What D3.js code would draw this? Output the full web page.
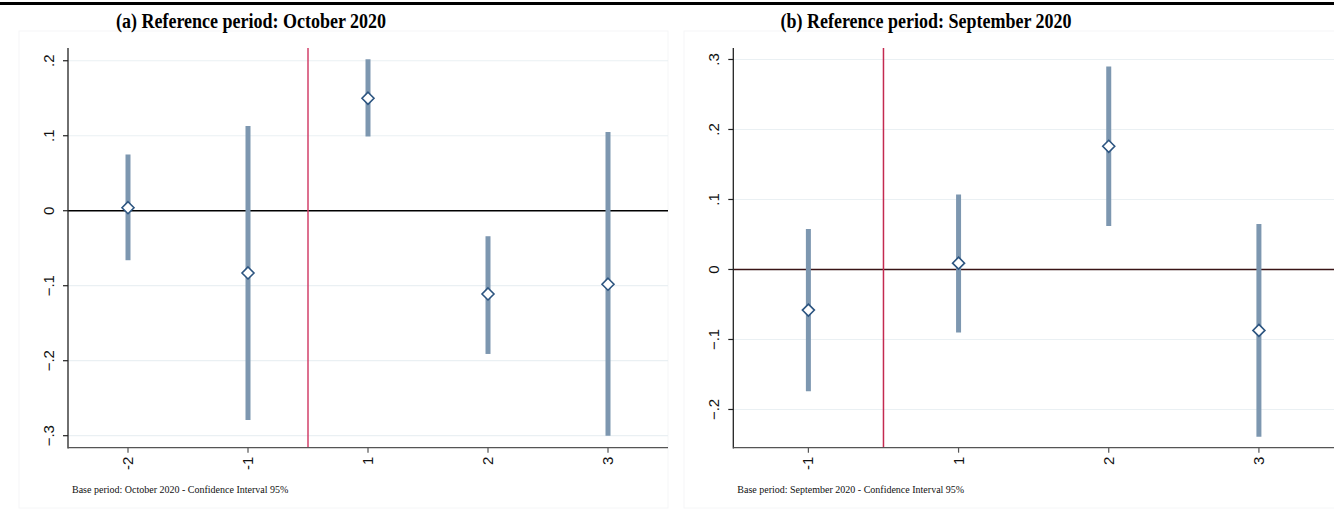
<!DOCTYPE html>
<html>
<head>
<meta charset="utf-8">
<script src="https://cdn.jsdelivr.net/npm/d3@7"></script>
<style>
  body { margin: 0; background: #fff; }
  svg { display: block; }
</style>
</head>
<body>
<svg width="1334" height="510"></svg>
<script>
// panel (a): reference period October 2020
const periodsA = ["-2", "-1", "1", "2", "3"];
const coefA = [0.004, -0.083, 0.150, -0.111, -0.098];
const lowA = [-0.066, -0.279, 0.099, -0.191, -0.300];
const highA = [0.075, 0.113, 0.202, -0.034, 0.105];
const yTicksA = [-0.3, -0.2, -0.1, 0, 0.1, 0.2];

// panel (b): reference period September 2020
const periodsB = ["-1", "1", "2", "3"];
const coefB = [-0.058, 0.009, 0.176, -0.087];
const lowB = [-0.174, -0.090, 0.062, -0.239];
const highB = [0.058, 0.107, 0.290, 0.065];
const yTicksB = [-0.2, -0.1, 0, 0.1, 0.2, 0.3];

let svg = d3.select("svg");
let fmt = v => v === 0 ? "0" : d3.format(".1f")(v).replace("0.", ".");

// top rule (cut title above it)
svg.append("rect").attr("x", 0).attr("y", 2).attr("width", 1334).attr("height", 3).attr("fill", "#000");

function panel(opt) {
  let g = svg.append("g");

  // faint graph region outline
  g.append("rect")
    .attr("x", opt.frame[0]).attr("y", 31)
    .attr("width", opt.frame[1] - opt.frame[0]).attr("height", 477)
    .attr("fill", "none").attr("stroke", "#f5f6f7").attr("stroke-width", 1);

  // title, slightly condensed like the original
  g.append("text")
    .attr("transform", `translate(${opt.titleX},28) scale(0.9,1)`)
    .attr("text-anchor", "middle")
    .style("font-family", "'Liberation Serif', 'Times New Roman', serif")
    .style("font-weight", "bold")
    .style("font-size", "20px")
    .text(opt.title);

  let x = d3.scaleLinear().domain([0.5, opt.periods.length + 0.5]).range([opt.left, opt.right]);
  let y = d3.scaleLinear().domain(opt.yDomain).range([447.7, 48]);

  // grid
  g.selectAll(".grid").data(opt.yTicks).enter().append("line")
    .attr("x1", opt.left).attr("x2", opt.right)
    .attr("y1", d => y(d)).attr("y2", d => y(d))
    .attr("stroke", "#eaf0f3").attr("stroke-width", 1.2);

  // zero line
  g.append("line")
    .attr("x1", opt.left).attr("x2", opt.right)
    .attr("y1", y(0)).attr("y2", y(0))
    .attr("stroke", opt.zeroColor).attr("stroke-width", 1.5);

  // event line between -1 and 1
  let ev = opt.periods.indexOf("-1") + 1.5;
  g.append("line")
    .attr("x1", x(ev)).attr("x2", x(ev))
    .attr("y1", 48).attr("y2", 447.7)
    .attr("stroke", opt.redColor).attr("stroke-width", 1.5);

  // y axis
  let yAxis = g.append("g").attr("transform", `translate(${opt.left},0)`);
  yAxis.append("line").attr("x1", 0).attr("x2", 0).attr("y1", 48).attr("y2", 448.5)
    .attr("stroke", "#222").attr("stroke-width", 1.3);
  yAxis.selectAll(".yt").data(opt.yTicks).enter().append("line")
    .attr("x1", -5).attr("x2", 0)
    .attr("y1", d => y(d)).attr("y2", d => y(d))
    .attr("stroke", "#222").attr("stroke-width", 1.2);
  yAxis.selectAll(".yl").data(opt.yTicks).enter().append("text")
    .attr("transform", d => `translate(-14,${y(d)}) rotate(-90)`)
    .attr("text-anchor", "middle")
    .style("font-family", "'Liberation Sans', Arial, sans-serif")
    .style("font-size", "15px")
    .attr("fill", "#111")
    .text(d => fmt(d));

  // x axis
  let xAxis = g.append("g").attr("transform", "translate(0,447.7)");
  xAxis.append("line").attr("x1", opt.left).attr("x2", opt.right).attr("y1", 0).attr("y2", 0)
    .attr("stroke", "#555").attr("stroke-width", 1.3);
  xAxis.selectAll(".xt").data(opt.periods).enter().append("line")
    .attr("x1", (d, i) => x(i + 1)).attr("x2", (d, i) => x(i + 1))
    .attr("y1", 0).attr("y2", 5)
    .attr("stroke", "#555").attr("stroke-width", 1.2);
  xAxis.selectAll(".xl").data(opt.periods).enter().append("text")
    .attr("transform", (d, i) => `translate(${x(i + 1) + 5},9) rotate(-90)`)
    .attr("text-anchor", "end")
    .style("font-family", "'Liberation Sans', Arial, sans-serif")
    .style("font-size", "15px")
    .attr("fill", "#111")
    .text(d => d);

  // confidence intervals
  g.selectAll(".ci").data(opt.periods).enter().append("line")
    .attr("x1", (d, i) => x(i + 1)).attr("x2", (d, i) => x(i + 1))
    .attr("y1", (d, i) => y(opt.low[i])).attr("y2", (d, i) => y(opt.high[i]))
    .attr("stroke", "#7d97b0").attr("stroke-width", 5);

  // point estimates
  g.selectAll(".pt").data(opt.periods).enter().append("path")
    .attr("d", "M0,-6L6,0L0,6L-6,0Z")
    .attr("transform", (d, i) => `translate(${x(i + 1)},${y(opt.coef[i])})`)
    .attr("fill", "#fff").attr("stroke", "#2d5580").attr("stroke-width", 1.6);

  // note
  g.append("text")
    .attr("x", opt.left + 4).attr("y", 493)
    .style("font-family", "'Liberation Serif', 'Times New Roman', serif")
    .style("font-size", "10px")
    .attr("fill", "#111")
    .text(opt.note);
}

panel({
  title: "(a) Reference period: October 2020",
  titleX: 251,
  frame: [19, 668],
  left: 68, right: 668,
  yDomain: [-0.316, 0.217],
  yTicks: yTicksA,
  periods: periodsA, coef: coefA, low: lowA, high: highA,
  zeroColor: "#000", redColor: "#d2416a",
  note: "Base period: October 2020 - Confidence Interval 95%"
});

panel({
  title: "(b) Reference period: September 2020",
  titleX: 926,
  frame: [684, 1340],
  left: 733.3, right: 1334,
  yDomain: [-0.2546, 0.3164],
  yTicks: yTicksB,
  periods: periodsB, coef: coefB, low: lowB, high: highB,
  zeroColor: "#3a1416", redColor: "#c42a50",
  note: "Base period: September 2020 - Confidence Interval 95%"
});
</script>
</body>
</html>
